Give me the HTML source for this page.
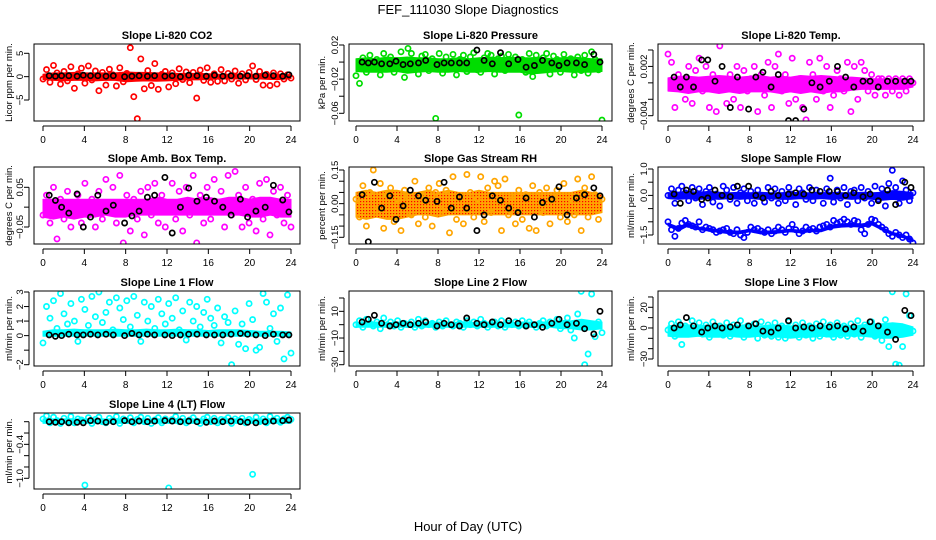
<!DOCTYPE html>
<html><head><meta charset="utf-8"><title>FEF_111030 Slope Diagnostics</title>
<style>
body{margin:0;background:#fff;}
svg{display:block;font-family:"Liberation Sans",Arial,sans-serif;}
</style></head>
<body>
<svg id="chart" width="936" height="540" viewBox="0 0 936 540" xmlns="http://www.w3.org/2000/svg">
<defs>
<pattern id="rhPattern" width="3" height="3" patternUnits="userSpaceOnUse">
<rect width="3" height="3" fill="#ffa500"/><rect width="1.2" height="1.2" fill="#ff0000"/>
</pattern>
</defs>
<rect width="936" height="540" fill="#fff"/>
<text x="468" y="14" text-anchor="middle" font-size="13">FEF_111030  Slope Diagnostics</text>
<text x="468" y="531" text-anchor="middle" font-size="13">Hour of Day (UTC)</text>
</svg>
<script>
const xTicks = [0,4,8,12,16,20,24];
const blackHours = [0.6,1.2,1.8,2.5,3.3,3.9,4.6,5.3,6.1,6.8,7.9,8.6,9.3,10.1,10.8,11.8,12.5,13.3,14.1,14.9,15.8,16.6,17.4,18.2,19.1,19.8,20.6,21.5,22.3,23.2,23.8];

// CO2
const co2Scatter = [-0.5,1.5,-1.2,2.4,0.8,-1.6,1.1,-0.9,2.1,-2.5,0.6,1.8,-1.4,2.3,-0.7,1.2,-3.0,0.9,-1.8,1.6,0.4,-2.0,1.9,-1.1,0.7,6.2,-4.3,-9.0,3.8,-2.6,1.3,-1.9,2.8,-2.7,0.5,1.1,-2.2,0.8,-1.5,1.7,-0.6,1.0,-1.3,0.9,-4.6,1.4,-0.8,1.9,-1.2,0.6,-1.0,1.5,-0.9,0.7,-0.5,1.2,-1.4,0.6,-0.7,0.9,2.3,-0.6,1.1,-1.8,0.5,-1.9,0.8,-1.6,0.6,-0.5,0.4,-0.3];
const co2BandLo = [-0.6,-0.8,-0.9,-0.8,-0.8,-0.9,-0.8,-0.8,-1.1,-1.0,-0.9,-1.0,-0.9,-0.8,-0.7,-0.7,-0.6,-0.5,-0.5,-0.5,-0.5,-0.5,-0.6,-0.6,-0.4];
const co2BandHi = [0.5,0.8,0.8,0.9,0.8,0.8,0.8,0.8,1.0,0.9,0.9,0.8,0.8,0.7,0.7,0.7,0.6,0.5,0.5,0.5,0.5,0.5,0.5,0.5,0.4];
const co2Black = [0.2,0.1,0.2,0.2,0.1,0.3,0.2,0.2,0.1,0.2,0.0,0.1,0.2,0.1,0.2,0.1,0.2,0.0,0.3,0.2,0.1,0.3,0.1,0.2,0.1,0.2,0.1,0.3,0.2,0.1,0.4];
// Pressure
const presScatter = [-0.016,-0.025,0.005,-0.012,0.008,-0.005,0.003,-0.015,0.01,-0.008,0.006,-0.012,0.002,0.012,-0.018,0.016,0.01,-0.006,-0.014,0.007,0.009,-0.01,0.004,-0.066,0.01,-0.013,0.006,-0.004,0.009,-0.015,0.003,0.008,-0.011,0.006,0.011,-0.009,-0.012,0.005,0.01,0.008,-0.014,0.004,0.007,-0.01,0.009,-0.005,0.006,-0.062,0.003,-0.012,0.01,-0.017,0.008,-0.006,0.005,0.01,-0.014,0.007,0.003,-0.012,0.009,-0.008,0.004,-0.015,0.006,-0.01,0.008,-0.013,0.012,0.003,-0.009,-0.068];
const presBandLo = [-0.011,-0.012,-0.012,-0.012,-0.011,-0.013,-0.012,-0.011,-0.012,-0.012,-0.011,-0.012,-0.012,-0.011,-0.012,-0.012,-0.012,-0.014,-0.013,-0.012,-0.011,-0.012,-0.012,-0.012,-0.011];
const presBandHi = [0.004,0.005,0.004,0.006,0.005,0.006,0.005,0.005,0.004,0.004,0.005,0.004,0.005,0.006,0.005,0.006,0.005,0.005,0.006,0.004,0.005,0.006,0.005,0.004,0.004];
const presBlack = [0.0,-0.001,0.0,-0.002,-0.002,0.001,-0.003,-0.002,-0.001,0.002,-0.003,-0.001,-0.001,-0.001,-0.001,0.014,0.002,-0.002,0.011,-0.002,0.003,-0.006,-0.004,0.002,-0.001,-0.004,-0.001,-0.001,-0.003,0.009,0.0];
// Li-820 Temp
const tempScatter = [0.0035,0.0025,-0.003,0.001,0.0,-0.002,0.002,-0.0025,0.0015,0.003,-0.001,0.002,-0.003,0.001,-0.0035,0.0045,0.0,-0.0025,0.001,-0.002,0.002,-0.003,0.0015,-0.001,0.0005,0.002,-0.0035,0.001,-0.0015,0.0025,-0.003,0.002,0.0035,-0.001,0.001,-0.0025,0.003,-0.002,0.0005,-0.003,-0.0045,0.0025,0.001,-0.002,0.003,-0.001,0.002,-0.003,-0.0015,0.0015,0.0005,-0.001,0.0025,-0.0035,0.002,-0.002,0.0025,0.0015,-0.001,0.001,-0.0015,0.0005,0.0005,-0.0015,0.0005,-0.001,0.0005,-0.0015,0.0005,-0.001,0.0005,0.0];
const tempBandLo = [-0.001,-0.0011,-0.0013,-0.0011,-0.0011,-0.0013,-0.0011,-0.0013,-0.0011,-0.0011,-0.0011,-0.0013,-0.0011,-0.0013,-0.0011,-0.0013,-0.0011,-0.0011,-0.0009,-0.0008,-0.0008,-0.0008,-0.0008,-0.0008,-0.0005];
const tempBandHi = [0.0006,0.0008,0.0008,0.0007,0.0008,0.0009,0.0008,0.0007,0.0008,0.0009,0.0007,0.0008,0.0007,0.0009,0.0008,0.0009,0.0008,0.0007,0.0007,0.0006,0.0005,0.0005,0.0005,0.0005,0.0004];
const tempBlack = [0.0007,-0.0005,0.0007,-0.0005,0.0028,0.0028,0.0002,0.002,-0.003,0.0007,-0.0032,0.0007,0.0013,-0.0005,0.001,-0.0046,-0.0046,-0.0032,0.0,-0.0005,0.0002,0.002,0.0007,-0.0005,0.0002,0.0002,-0.0005,0.0002,0.0002,0.0002,0.0002];
// Amb box temp
const ambScatter = [-0.02,0.03,-0.04,0.05,-0.08,0.02,-0.03,0.04,-0.05,0.01,0.03,-0.04,0.06,-0.02,0.02,-0.05,0.04,-0.03,0.07,-0.01,0.05,-0.04,0.08,-0.09,0.03,-0.06,0.02,-0.03,0.04,-0.07,0.05,-0.02,0.06,-0.04,0.03,-0.05,0.01,0.06,-0.03,0.04,-0.06,0.05,-0.02,0.08,-0.09,0.03,-0.04,0.05,-0.03,0.07,-0.01,0.04,-0.05,0.08,-0.02,0.09,0.03,-0.05,0.05,-0.04,0.02,-0.06,0.06,-0.03,0.07,-0.07,0.04,-0.02,0.05,-0.04,0.03,-0.05];
const ambBandLo = [-0.025,-0.03,-0.025,-0.03,-0.025,-0.025,-0.02,-0.025,-0.025,-0.02,-0.02,-0.02,-0.02,-0.02,-0.02,-0.02,-0.02,-0.02,-0.02,-0.02,-0.025,-0.025,-0.02,-0.025,-0.025];
const ambBandHi = [0.02,0.02,0.02,0.02,0.02,0.02,0.02,0.02,0.02,0.02,0.02,0.025,0.02,0.02,0.025,0.02,0.025,0.02,0.025,0.025,0.02,0.025,0.025,0.02,0.02];
const ambBlack = [0.03,0.017,0.0,-0.015,0.033,-0.05,-0.025,0.03,-0.01,0.005,-0.04,-0.022,-0.01,0.025,0.03,0.075,-0.065,0.0,0.048,0.015,0.025,0.015,0.0,-0.02,0.02,-0.025,-0.01,0.0,0.055,0.018,-0.012];
// RH
const rhScatter = [0.02,-0.06,0.08,-0.1,0.05,0.15,-0.03,0.09,-0.11,0.04,0.07,-0.08,0.02,-0.12,0.06,0.03,-0.05,0.1,-0.09,0.04,-0.06,0.07,-0.1,0.05,0.09,-0.03,0.06,-0.13,0.12,-0.07,0.03,-0.09,0.13,0.05,-0.06,0.02,0.12,-0.08,0.07,-0.04,0.1,0.08,-0.12,0.11,-0.05,0.03,-0.09,0.06,-0.07,0.04,-0.11,0.08,-0.12,0.05,-0.04,0.07,-0.09,0.03,0.06,-0.06,0.09,-0.08,0.02,-0.05,0.11,-0.12,0.07,-0.06,0.12,0.04,-0.07,0.02];
const rhBandLo = [-0.06,-0.07,-0.06,-0.07,-0.07,-0.06,-0.05,-0.05,-0.06,-0.05,-0.05,-0.05,-0.05,-0.05,-0.05,-0.05,-0.05,-0.05,-0.05,-0.05,-0.05,-0.05,-0.05,-0.05,-0.04];
const rhBandHi = [0.05,0.06,0.05,0.06,0.06,0.05,0.05,0.06,0.05,0.06,0.05,0.05,0.06,0.05,0.05,0.05,0.05,0.05,0.05,0.05,0.05,0.05,0.06,0.05,0.04];
const rhBlack = [0.04,-0.17,0.095,-0.02,0.035,-0.07,-0.01,0.06,0.035,0.015,0.01,0.095,-0.02,0.03,-0.02,-0.12,-0.05,0.035,0.015,-0.02,-0.04,0.025,-0.06,0.005,0.02,0.075,-0.05,0.025,0.04,0.07,0.035];
// Sample flow
const sfScatter = [0.0,0.25,-0.3,0.2,0.35,0.1,-0.2,0.3,-0.1,0.25,-0.35,0.15,0.3,-0.25,0.05,-0.4,0.35,0.2,-0.15,0.3,-0.3,0.1,0.25,-0.2,0.15,-0.3,0.2,0.0,-0.25,0.3,-0.1,0.25,-0.3,0.15,-0.2,0.3,0.05,-0.35,0.25,0.1,-0.15,0.3,-0.2,0.2,0.0,-0.3,0.25,0.65,-0.25,0.2,-0.1,0.3,-0.35,0.15,0.2,-0.2,0.3,-0.1,0.15,-0.3,0.35,-0.15,0.25,-0.4,0.45,0.95,0.3,-0.3,0.55,0.2,-0.2,0.1];
const sfLower = [-1.0,-1.3,-1.55,-1.25,-1.05,-0.95,-1.1,-1.15,-1.2,-1.0,-1.3,-1.2,-1.25,-1.3,-1.4,-1.35,-1.3,-1.25,-1.4,-1.45,-1.3,-1.5,-1.6,-1.4,-1.2,-1.3,-1.25,-1.35,-1.4,-1.3,-1.45,-1.35,-1.2,-1.3,-1.4,-1.25,-1.1,-1.3,-1.45,-1.35,-1.2,-1.3,-1.25,-1.35,-1.2,-1.15,-1.1,-1.2,-0.95,-1.05,-1.0,-0.9,-1.0,-1.1,-0.95,-1.0,-1.3,-1.45,-1.1,-0.9,-0.95,-1.1,-1.2,-1.3,-1.45,-1.55,-1.4,-1.5,-1.6,-1.5,-1.65,-1.8];
const sfBandLo = [-0.12,-0.15,-0.12,-0.15,-0.12,-0.15,-0.12,-0.15,-0.12,-0.15,-0.12,-0.15,-0.15,-0.12,-0.15,-0.12,-0.15,-0.12,-0.15,-0.12,-0.15,-0.18,-0.15,-0.18,-0.12];
const sfBandHi = [0.1,0.12,0.15,0.12,0.15,0.12,0.1,0.12,0.1,0.12,0.1,0.1,0.12,0.1,0.1,0.1,0.12,0.1,0.1,0.12,0.1,0.12,0.18,0.15,0.1];
const sfBand2Lo = [-1.15,-1.35,-1.15,-1.3,-1.35,-1.4,-1.45,-1.45,-1.38,-1.45,-1.45,-1.42,-1.38,-1.42,-1.38,-1.38,-1.25,-1.2,-1.18,-1.2,-1.12,-1.32,-1.5,-1.6,-1.75];
const sfBand2Hi = [-1.05,-1.2,-1.05,-1.2,-1.25,-1.3,-1.35,-1.35,-1.28,-1.35,-1.35,-1.32,-1.28,-1.32,-1.28,-1.28,-1.12,-1.08,-1.06,-1.08,-1.02,-1.22,-1.4,-1.5,-1.65];
const sfBlack = [0.05,-0.3,0.2,0.15,-0.15,-0.1,0.2,0.0,-0.05,0.35,0.35,0.0,-0.1,0.15,0.0,0.05,0.1,0.05,0.2,0.15,0.15,0.15,0.0,0.1,-0.05,0.05,-0.2,0.2,-0.35,0.5,0.3];
// Line 1
const l1Scatter = [-0.5,2.0,1.2,2.4,0.5,2.9,1.5,0.8,2.2,1.0,-0.4,2.5,1.8,0.7,2.7,1.3,3.0,0.9,1.6,2.3,0.4,2.6,1.9,1.1,2.4,0.6,2.7,1.4,-0.4,2.3,1.0,2.0,0.5,2.5,1.5,0.8,2.2,1.2,2.6,0.4,1.7,-0.3,2.3,1.0,2.0,0.6,1.6,2.5,1.2,0.7,1.9,-0.5,1.3,0.9,-2.0,1.7,-0.6,0.8,-0.9,2.2,1.1,-1.0,-0.8,2.9,2.3,0.5,1.5,-0.4,1.9,-1.6,2.8,-1.2];
const l1BandLo = [-0.05,-0.05,-0.05,-0.05,-0.05,-0.05,-0.05,-0.05,-0.05,-0.05,-0.05,-0.05,-0.05,-0.05,-0.05,-0.05,-0.05,-0.05,-0.05,-0.05,-0.05,-0.05,-0.05,-0.05,-0.05];
const l1BandHi = [0.3,0.4,0.4,0.45,0.4,0.4,0.4,0.45,0.4,0.4,0.45,0.4,0.4,0.45,0.4,0.4,0.35,0.4,0.4,0.4,0.35,0.3,0.3,0.3,0.25];
const l1Black = [0.05,-0.05,0.0,0.1,0.05,0.05,0.1,0.05,0.1,0.05,0.0,0.15,0.05,0.1,0.05,0.05,0.0,0.05,0.1,0.1,0.05,0.05,0.05,0.1,0.15,0.1,0.05,0.0,0.1,0.05,0.05];
// Line 2
const l2Scatter = [0,3,-2,4,1,-1,2,-3,5,0,2,-1,3,-2,1,0,2,-2,4,-1,3,0,1,-2,2,-1,3,0,-1,2,1,-2,3,0,2,-1,4,1,-2,0,2,-1,3,-2,1,0,2,-1,3,-1,2,0,-2,1,3,-1,2,0,4,-3,1,5,-4,-10,8,25,-30,-22,23,-9,2,-6];
const l2BandLo = [-2,-2,-2,-2,-2,-2,-2,-2,-2,-2,-2,-2,-2,-2,-2,-2,-2,-2,-2,-2,-3,-3,-4,-4,-3];
const l2BandHi = [1.5,2,2,1.5,2,2,1.5,2,2,1.5,2,2,1.5,2,2,1.5,2,2,2,2,2.5,3,4,3,2];
const l2Black = [2,4,7,1,-1,0,1,0,1,2,-1,1,0,-1,5,1,0,2,0,3,1,-1,0,-2,1,4,0,1,-3,-7,10];
// Line 3
const l3Scatter = [-2,4,-8,6,-16,2,-5,7,-3,5,-6,3,-9,6,-4,2,-7,5,-8,3,-6,7,-9,2,-5,4,-10,6,-7,3,-8,5,-9,2,-10,6,-4,3,-9,5,-7,2,-10,4,-8,6,-6,3,-9,5,-7,2,-8,4,-6,7,-9,3,-5,6,-8,2,-12,8,-18,35,-35,-36,-18,33,12,-3];
const l3BandLo = [-8,-9,-9,-8,-9,-9,-8,-9,-9,-8,-9,-9,-10,-9,-9,-8,-9,-8,-8,-8,-9,-10,-10,-9,-7];
const l3BandHi = [2,3,3,2,3,3,2,3,3,2,3,3,2,3,3,2,3,3,2,3,4,4,5,4,1];
const l3Black = [0,3,10,2,-4,0,2,0,1,3,2,4,-3,-4,0,7,0,1,0,2,1,2,-1,1,-3,6,2,-4,-11,17,12];
// Line 4
const l4Scatter = [0.05,0.1,-0.02,0.08,0.02,-0.03,0.06,0.0,0.09,-0.02,0.05,0.03,-1.12,0.07,-0.03,0.04,0.08,0.0,-0.02,0.06,0.03,0.09,-0.03,0.05,0.02,0.07,-0.02,0.04,0.08,0.0,0.06,-0.03,0.03,0.07,-0.02,0.05,-1.17,0.04,0.09,0.0,0.06,-0.02,0.03,0.07,0.01,-0.03,0.05,0.08,0.0,0.06,-0.02,0.04,0.03,0.07,-0.03,0.05,0.02,0.06,-0.02,0.04,-0.93,0.08,0.0,0.05,-0.02,0.09,0.03,0.06,-0.01,0.05,0.08,0.04];
const l4BandLo = [-0.03,-0.03,-0.03,-0.03,-0.03,-0.03,-0.03,-0.03,-0.03,-0.03,-0.03,-0.03,-0.03,-0.03,-0.03,-0.03,-0.03,-0.03,-0.03,-0.03,-0.03,-0.03,-0.03,-0.03,-0.03];
const l4BandHi = [0.05,0.05,0.05,0.05,0.05,0.05,0.05,0.05,0.05,0.05,0.05,0.05,0.05,0.05,0.05,0.05,0.05,0.05,0.05,0.05,0.05,0.05,0.05,0.05,0.05];
const l4Black = [0.0,-0.01,0.0,-0.02,-0.01,-0.02,0.02,0.01,-0.01,0.0,0.02,0.0,0.01,0.0,0.01,0.02,0.01,0.0,0.01,0.0,-0.01,0.01,0.0,0.01,0.0,-0.01,-0.02,0.0,0.01,0.02,0.03];

const panels = [
 {id:'co2',title:'Slope Li-820 CO2',yl:'Licor ppm per min.',L:34,R:300,T:44,B:121,x0:43,x24:291,ref:[5,53.3,-5,100],ticks:[5,0,-5],labels:[5,0,-5],col:'#ff0000',sc:co2Scatter,lo:co2BandLo,hi:co2BandHi,bk:co2Black,ylx:12},
 {id:'pressure',title:'Slope Li-820 Pressure',yl:'kPa per min.',L:349,R:612,T:44,B:121,x0:356,x24:602,ref:[0.02,45,-0.06,113.3],ticks:[0.02,0,-0.02,-0.04,-0.06],labels:['0.02','','-0.02','','-0.06'],col:'#00dd00',sc:presScatter,lo:presBandLo,hi:presBandHi,bk:presBlack,ylx:325},
 {id:'li820-temp',title:'Slope Li-820 Temp.',yl:'degrees C per min.',L:658,R:924,T:44,B:121,x0:668,x24:913,ref:[0.004,50,-0.004,115.7],ticks:[0.004,0.002,0,-0.002,-0.004],labels:['','0.002','','','-0.004'],col:'#ff00ff',sc:tempScatter,lo:tempBandLo,hi:tempBandHi,bk:tempBlack,ylx:634},
 {id:'amb-box-temp',title:'Slope Amb. Box Temp.',yl:'degrees C per min.',L:34,R:300,T:167,B:244,x0:43,x24:291,ref:[0.05,187.3,-0.05,227],ticks:[0.05,0,-0.05],labels:['0.05','','-0.05'],col:'#ff00ff',sc:ambScatter,lo:ambBandLo,hi:ambBandHi,bk:ambBlack,ylx:12},
 {id:'gas-stream-rh',title:'Slope Gas Stream RH',yl:'percent per min.',L:349,R:612,T:167,B:244,x0:356,x24:602,ref:[0.15,170,-0.15,237.3],ticks:[0.15,0.1,0.05,0,-0.05,-0.1,-0.15],labels:['0.15','','','0.00','','','-0.15'],col:'#ffa500',fillRef:'url(#rhPattern)',sc:rhScatter,lo:rhBandLo,hi:rhBandHi,bk:rhBlack,ylx:325},
 {id:'sample-flow',title:'Slope Sample Flow',yl:'ml/min per min.',L:658,R:924,T:167,B:244,x0:668,x24:913,ref:[1,169,-1.5,235],ticks:[1,0.5,0,-0.5,-1,-1.5],labels:['1.0','','0.0','','','-1.5'],col:'#0000ff',sc:sfScatter,sc2:sfLower,lo:sfBandLo,hi:sfBandHi,lo2:sfBand2Lo,hi2:sfBand2Hi,bk:sfBlack,ylx:634},
 {id:'line1-flow',title:'Slope Line 1 Flow',yl:'ml/min per min.',L:34,R:300,T:291,B:366,x0:43,x24:291,ref:[3,292,-2,364.7],ticks:[3,2,1,0,-1,-2],labels:['3','2','1','0','','-2'],col:'#00ffff',sc:l1Scatter,lo:l1BandLo,hi:l1BandHi,bk:l1Black,ylx:12},
 {id:'line2-flow',title:'Slope Line 2 Flow',yl:'ml/min per min.',L:349,R:612,T:291,B:366,x0:356,x24:602,ref:[20,298,-30,364.7],ticks:[20,10,0,-10,-20,-30],labels:['','10','','-10','','-30'],col:'#00ffff',sc:l2Scatter,lo:l2BandLo,hi:l2BandHi,bk:l2Black,ylx:325},
 {id:'line3-flow',title:'Slope Line 3 Flow',yl:'ml/min per min.',L:658,R:924,T:291,B:366,x0:668,x24:913,ref:[20,307.3,-30,359],ticks:[30,20,10,0,-10,-20,-30],labels:['','20','','0','','','-30'],col:'#00ffff',sc:l3Scatter,lo:l3BandLo,hi:l3BandHi,bk:l3Black,ylx:634},
 {id:'line4-flow',title:'Slope Line 4 (LT) Flow',yl:'ml/min per min.',L:34,R:300,T:413,B:489,x0:43,x24:291,ref:[0,421.7,-1,478.3],ticks:[0,-0.2,-0.4,-0.6,-0.8,-1.0],labels:['','','-0.4','','','-1.0'],col:'#00ffff',sc:l4Scatter,lo:l4BandLo,hi:l4BandHi,bk:l4Black,ylx:12}
];

const svg = document.getElementById('chart');
const NS = 'http://www.w3.org/2000/svg';
function mk(tag, attrs, parent){const e=document.createElementNS(NS,tag);for(const k in attrs)e.setAttribute(k,attrs[k]);parent.appendChild(e);return e;}

panels.forEach(p=>{
  const g = mk('g',{},svg);
  
  
  const xs = h => p.x0 + (p.x24-p.x0)*h/24;
  const ys = v => p.ref[1] + (v-p.ref[0])*(p.ref[3]-p.ref[1])/(p.ref[2]-p.ref[0]);
  const clipId='clip-'+p.id;
  const cp = mk('clipPath',{id:clipId},g);
  mk('rect',{x:p.L,y:p.T,width:p.R-p.L,height:p.B-p.T},cp);
  const plot = mk('g',{'clip-path':'url(#'+clipId+')'},g);
  
  
  function band(lo,hi,name){
    let pts=[];
    lo.forEach((v,i)=>pts.push(xs(i*24/(lo.length-1)).toFixed(1)+','+ys(v).toFixed(1)));
    for(let i=hi.length-1;i>=0;i--) pts.push(xs(i*24/(hi.length-1)).toFixed(1)+','+ys(hi[i]).toFixed(1));
    const b = mk('polygon',{points:pts.join(' '),fill:p.fillRef||p.col,stroke:p.col,'stroke-width':1,'stroke-linejoin':'round'},plot);
    
    
  }
  band(p.lo,p.hi,p.id+'-dense-band');
  if(p.lo2) band(p.lo2,p.hi2,p.id+'-lower-band');
  function scatter(arr,name){
    arr.forEach((v,i)=>{
      const c = mk('circle',{cx:xs(i*24/(arr.length-1)).toFixed(1),cy:ys(v).toFixed(1),r:2.6,fill:'none',stroke:p.col,'stroke-width':1.7},plot);
      
      
    });
  }
  scatter(p.sc,p.id+'-point');
  if(p.sc2) scatter(p.sc2,p.id+'-lower-point');
  p.bk.forEach((v,i)=>{
    const c = mk('circle',{cx:xs(blackHours[i]).toFixed(1),cy:ys(v).toFixed(1),r:2.6,fill:'none',stroke:'#000','stroke-width':1.7},plot);
    
    
  });
  const frame = mk('rect',{x:p.L,y:p.T,width:p.R-p.L,height:p.B-p.T,fill:'none',stroke:'#000','stroke-width':1},g);
  
  
  const t = mk('text',{x:(p.L+p.R)/2,y:p.T-5,'text-anchor':'middle','font-size':11,'font-weight':'bold'},g);
  t.textContent = p.title;
  
  
  const xa = mk('g',{},g);
  
  
  mk('line',{x1:xs(0),x2:xs(24),y1:p.B+5,y2:p.B+5,stroke:'#000'},xa);
  xTicks.forEach(h=>{
    mk('line',{x1:xs(h),x2:xs(h),y1:p.B+5,y2:p.B+10,stroke:'#000'},xa);
    const tl = mk('text',{x:xs(h),y:p.B+22,'text-anchor':'middle','font-size':10},xa);
    tl.textContent = h;
    
    
  });
  const ya = mk('g',{},g);
  
  
  const ax = p.L-5;
  mk('line',{x1:ax,x2:ax,y1:ys(p.ticks[0]),y2:ys(p.ticks[p.ticks.length-1]),stroke:'#000'},ya);
  p.ticks.forEach((v,i)=>{
    const y=ys(v);
    mk('line',{x1:ax-5,x2:ax,y1:y,y2:y,stroke:'#000'},ya);
    if(p.labels[i]!==''){
      const tx = ax-6;
      const tl = mk('text',{x:tx,y:y,'text-anchor':'middle','font-size':9.5,transform:'rotate(-90 '+tx+' '+y+')'},ya);
      tl.textContent = String(p.labels[i]).replace('-','\u2212');
      
      
    }
  });
  const my=(p.T+p.B)/2;
  const yl = mk('text',{x:p.ylx,y:my,'text-anchor':'middle','font-size':9.5,transform:'rotate(-90 '+p.ylx+' '+my+')'},g);
  yl.textContent = p.yl;
  
  
});
</script>
</body></html>
